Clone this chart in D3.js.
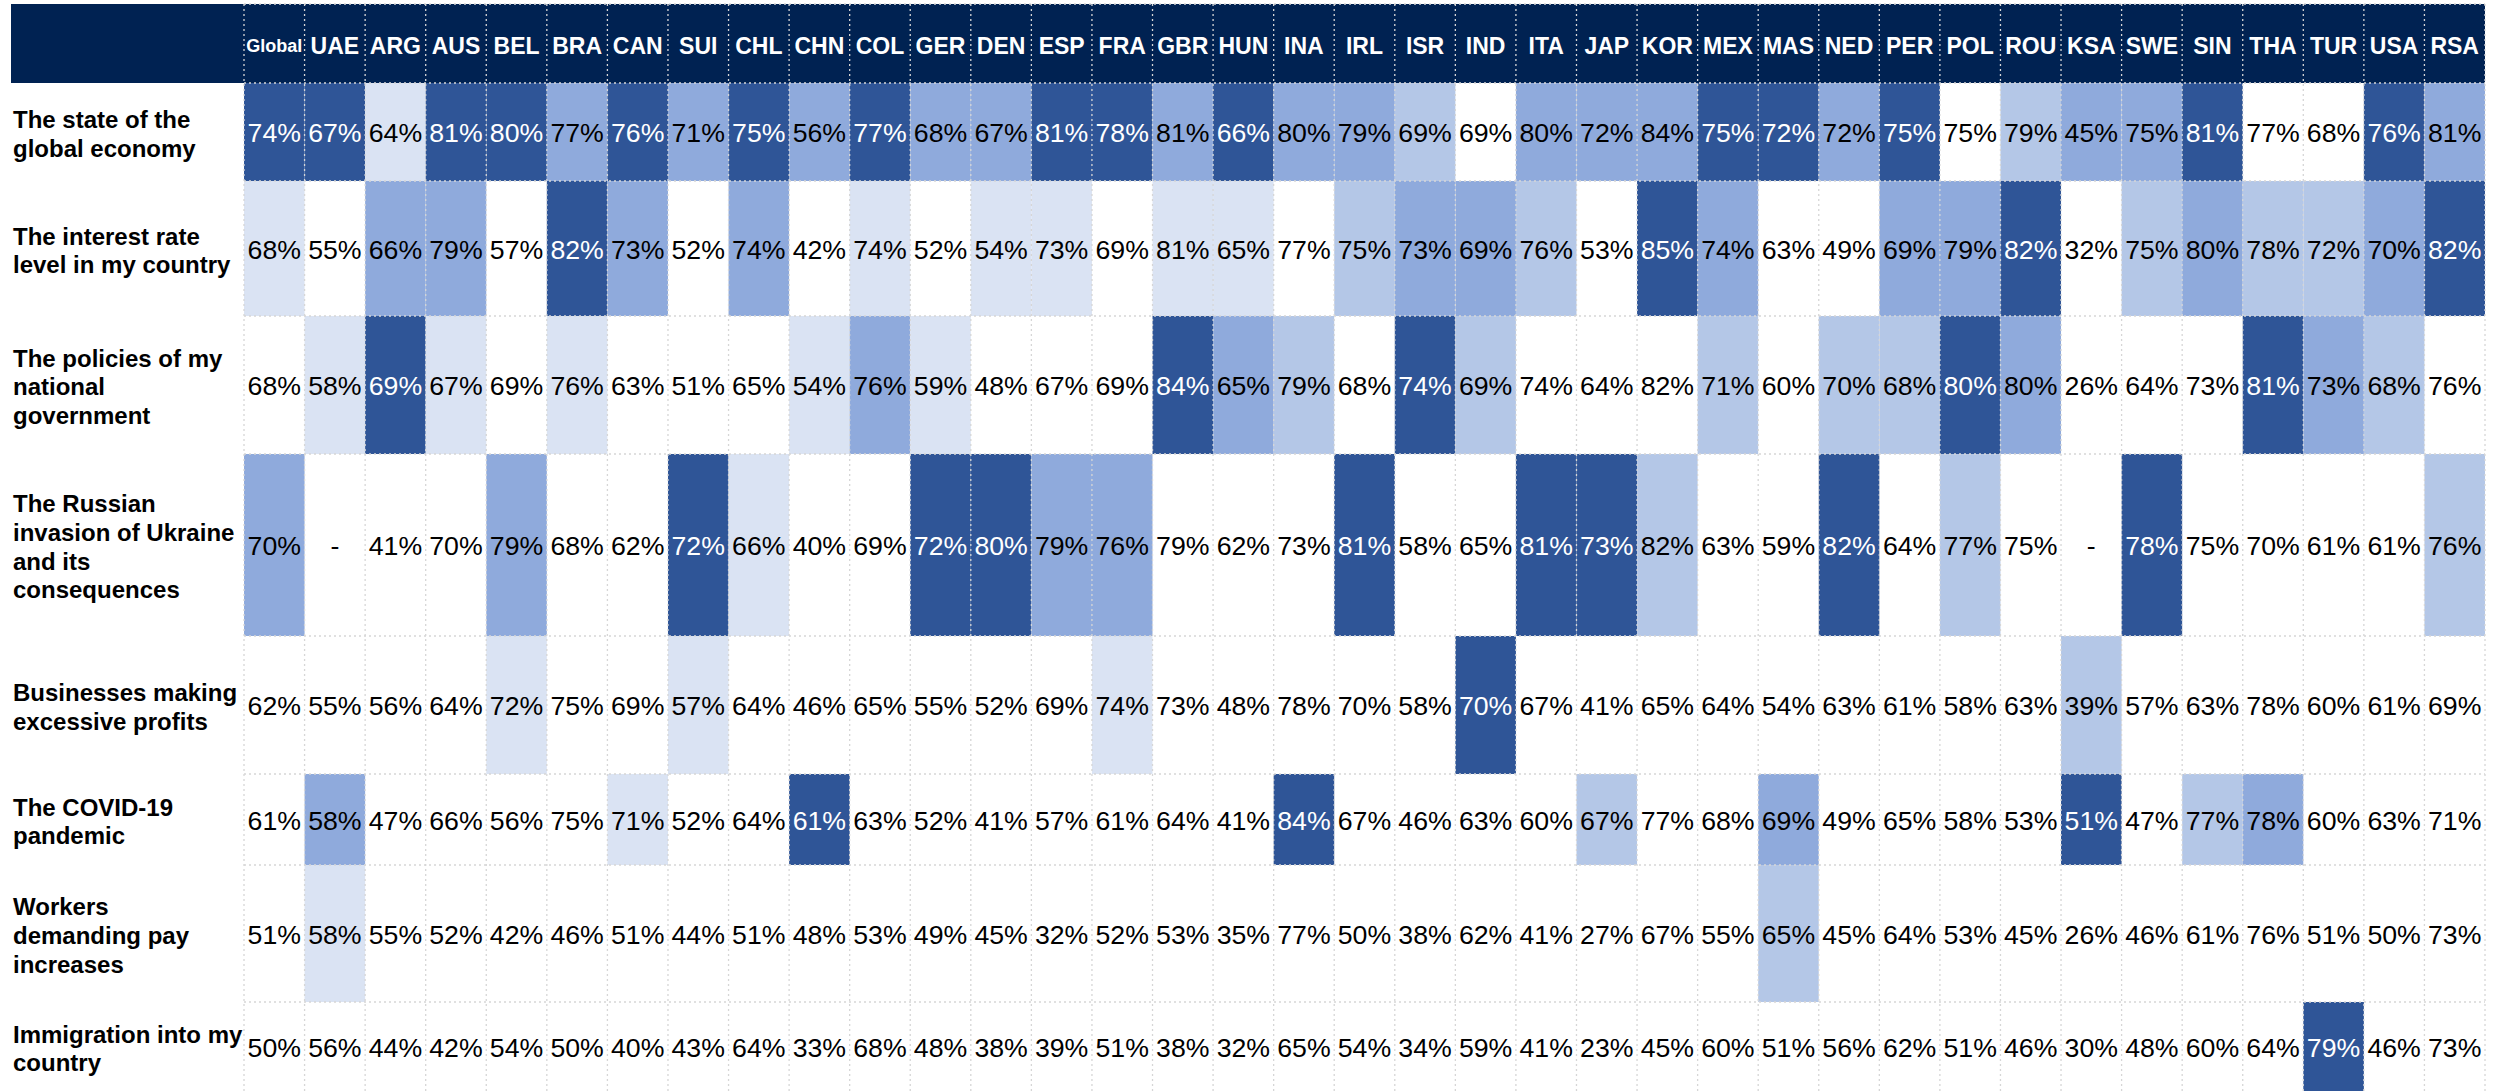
<!DOCTYPE html>
<html>
<head>
<meta charset="utf-8">
<script src="https://cdn.jsdelivr.net/npm/d3@7"></script>
<style>
  html, body { margin: 0; padding: 0; background: #fff; }
  svg { display: block; }
</style>
</head>
<body>
<div id="chart"></div>
<script>
// column headers and row labels (line breaks as in the original sheet)
var countries = ["Global","UAE","ARG","AUS","BEL","BRA","CAN","SUI","CHL","CHN","COL","GER","DEN","ESP","FRA","GBR","HUN","INA","IRL","ISR","IND","ITA","JAP","KOR","MEX","MAS","NED","PER","POL","ROU","KSA","SWE","SIN","THA","TUR","USA","RSA"];

var concerns = [
  "The state of the\nglobal economy",
  "The interest rate\nlevel in my country",
  "The policies of my\nnational\ngovernment",
  "The Russian\ninvasion of Ukraine\nand its\nconsequences",
  "Businesses making\nexcessive profits",
  "The COVID-19\npandemic",
  "Workers\ndemanding pay\nincreases",
  "Immigration into my\ncountry"
];

// share of respondents worried (%), one array per concern, null = not asked
var economy     = [74,67,64,81,80,77,76,71,75,56,77,68,67,81,78,81,66,80,79,69,69,80,72,84,75,72,72,75,75,79,45,75,81,77,68,76,81];
var interest    = [68,55,66,79,57,82,73,52,74,42,74,52,54,73,69,81,65,77,75,73,69,76,53,85,74,63,49,69,79,82,32,75,80,78,72,70,82];
var policies    = [68,58,69,67,69,76,63,51,65,54,76,59,48,67,69,84,65,79,68,74,69,74,64,82,71,60,70,68,80,80,26,64,73,81,73,68,76];
var ukraine     = [70,null,41,70,79,68,62,72,66,40,69,72,80,79,76,79,62,73,81,58,65,81,73,82,63,59,82,64,77,75,null,78,75,70,61,61,76];
var profits     = [62,55,56,64,72,75,69,57,64,46,65,55,52,69,74,73,48,78,70,58,70,67,41,65,64,54,63,61,58,63,39,57,63,78,60,61,69];
var covid       = [61,58,47,66,56,75,71,52,64,61,63,52,41,57,61,64,41,84,67,46,63,60,67,77,68,69,49,65,58,53,51,47,77,78,60,63,71];
var wages       = [51,58,55,52,42,46,51,44,51,48,53,49,45,32,52,53,35,77,50,38,62,41,27,67,55,65,45,64,53,45,26,46,61,76,51,50,73];
var immigration = [50,56,44,42,54,50,40,43,64,33,68,48,38,39,51,38,32,65,54,34,59,41,23,45,60,51,56,62,51,46,30,48,60,64,79,46,73];

// highlight level of each cell as shaded in the original (0 = none, 1 = darkest ... 4 = lightest)
var economyShade     = [1,1,4,1,1,2,1,2,1,2,1,2,2,1,1,2,1,2,2,3,0,2,2,2,1,1,2,1,0,3,2,2,1,0,0,1,2];
var interestShade    = [4,0,2,2,0,1,2,0,2,0,4,0,4,4,0,4,4,0,3,2,2,3,0,1,2,0,0,2,2,1,0,3,2,3,3,2,1];
var policiesShade    = [0,4,1,4,0,4,0,0,0,4,2,4,0,0,0,1,2,3,0,1,3,0,0,0,3,0,3,3,1,2,0,0,0,1,2,3,0];
var ukraineShade     = [2,0,0,0,2,0,0,1,4,0,0,1,1,2,2,0,0,0,1,0,0,1,1,3,0,0,1,0,3,0,0,1,0,0,0,0,3];
var profitsShade     = [0,0,0,0,4,0,0,4,0,0,0,0,0,0,4,0,0,0,0,0,1,0,0,0,0,0,0,0,0,0,3,0,0,0,0,0,0];
var covidShade       = [0,2,0,0,0,0,4,0,0,1,0,0,0,0,0,0,0,1,0,0,0,0,3,0,0,2,0,0,0,0,1,0,3,2,0,0,0];
var wagesShade       = [0,4,0,0,0,0,0,0,0,0,0,0,0,0,0,0,0,0,0,0,0,0,0,0,0,3,0,0,0,0,0,0,0,0,0,0,0];
var immigrationShade = [0,0,0,0,0,0,0,0,0,0,0,0,0,0,0,0,0,0,0,0,0,0,0,0,0,0,0,0,0,0,0,0,0,0,1,0,0];

var rowValues = [economy, interest, policies, ukraine, profits, covid, wages, immigration];
var rowShades = [economyShade, interestShade, policiesShade, ukraineShade, profitsShade, covidShade, wagesShade, immigrationShade];

// layout
var width = 2506, height = 1091;
var tableLeft = 11, tableTop = 4,
    gridLeft = 244, gridRight = 2485,
    headerBottom = 83;
var rowHeights = [98, 135, 138, 182, 138, 91, 137, 89];
var font = "'Liberation Sans', Arial, sans-serif";

var rowTops = rowHeights.map(function(h, i) {
  return headerBottom + d3.sum(rowHeights.slice(0, i));
});

var x = d3.scaleBand()
    .domain(countries)
    .range([gridLeft, gridRight]);

var y = d3.scaleOrdinal()
    .domain(d3.range(concerns.length))
    .range(rowTops);

var rowH = d3.scaleOrdinal()
    .domain(d3.range(concerns.length))
    .range(rowHeights);

var shade = d3.scaleOrdinal()
    .domain([1, 2, 3, 4])
    .range(["#2F5597", "#8FAADC", "#B4C7E7", "#DAE3F3"]);

// flat cell table
var cells = [];
rowValues.forEach(function(vals, r) {
  vals.forEach(function(v, c) {
    cells.push({row: r, country: countries[c], value: v, level: rowShades[r][c]});
  });
});

var svg = d3.select("#chart").append("svg")
    .attr("width", width)
    .attr("height", height);

// header band
svg.append("rect")
    .attr("x", tableLeft)
    .attr("y", tableTop)
    .attr("width", gridRight - tableLeft)
    .attr("height", headerBottom - tableTop)
    .attr("fill", "#002252");

// shaded cells
svg.append("g").selectAll("rect")
  .data(cells.filter(function(d) { return d.level > 0; }))
  .enter().append("rect")
    .attr("x", function(d) { return x(d.country); })
    .attr("y", function(d) { return y(d.row); })
    .attr("width", x.bandwidth())
    .attr("height", function(d) { return rowH(d.row); })
    .attr("fill", function(d) { return shade(d.level); });

// dotted grid
var grid = svg.append("g")
    .attr("stroke", "#d6d6d6")
    .attr("stroke-width", 1.3)
    .attr("stroke-dasharray", "2,3");

grid.selectAll("line.v")
  .data(countries.map(function(c) { return x(c); }).concat([gridRight]))
  .enter().append("line")
    .attr("class", "v")
    .attr("x1", function(d) { return d; })
    .attr("x2", function(d) { return d; })
    .attr("y1", tableTop)
    .attr("y2", height);

grid.selectAll("line.h")
  .data([tableTop].concat(rowTops))
  .enter().append("line")
    .attr("class", "h")
    .attr("x1", gridLeft)
    .attr("x2", gridRight)
    .attr("y1", function(d) { return d; })
    .attr("y2", function(d) { return d; });

// column headers
svg.append("g").selectAll("text")
  .data(countries)
  .enter().append("text")
    .attr("x", function(d) { return x(d) + x.bandwidth() / 2; })
    .attr("y", (tableTop + headerBottom) / 2 + 2)
    .attr("dy", "0.35em")
    .attr("text-anchor", "middle")
    .attr("fill", "#fff")
    .attr("font-family", font)
    .attr("font-weight", "bold")
    .attr("font-size", function(d) { return d === "Global" ? 18 : 23; })
    .text(function(d) { return d; });

// row labels
var lineH = 28.7;
var labels = svg.append("g").selectAll("text")
  .data(concerns)
  .enter().append("text")
    .attr("font-family", font)
    .attr("font-weight", "bold")
    .attr("font-size", 24)
    .attr("fill", "#000");

labels.each(function(d, i) {
  var lines = d.split("\n");
  var cy = y(i) + rowH(i) / 2 + 2;
  var t = d3.select(this);
  lines.forEach(function(line, k) {
    t.append("tspan")
      .attr("x", 13)
      .attr("y", cy + (k - (lines.length - 1) / 2) * lineH)
      .attr("dy", "0.35em")
      .text(line);
  });
});

// cell values
svg.append("g").selectAll("text")
  .data(cells)
  .enter().append("text")
    .attr("x", function(d) { return x(d.country) + x.bandwidth() / 2; })
    .attr("y", function(d) { return y(d.row) + rowH(d.row) / 2 + 1; })
    .attr("dy", "0.35em")
    .attr("text-anchor", "middle")
    .attr("font-family", font)
    .attr("font-size", 26.7)
    .attr("fill", function(d) { return d.level === 1 ? "#fff" : "#000"; })
    .text(function(d) { return d.value == null ? "-" : d.value + "%"; });
</script>
</body>
</html>
